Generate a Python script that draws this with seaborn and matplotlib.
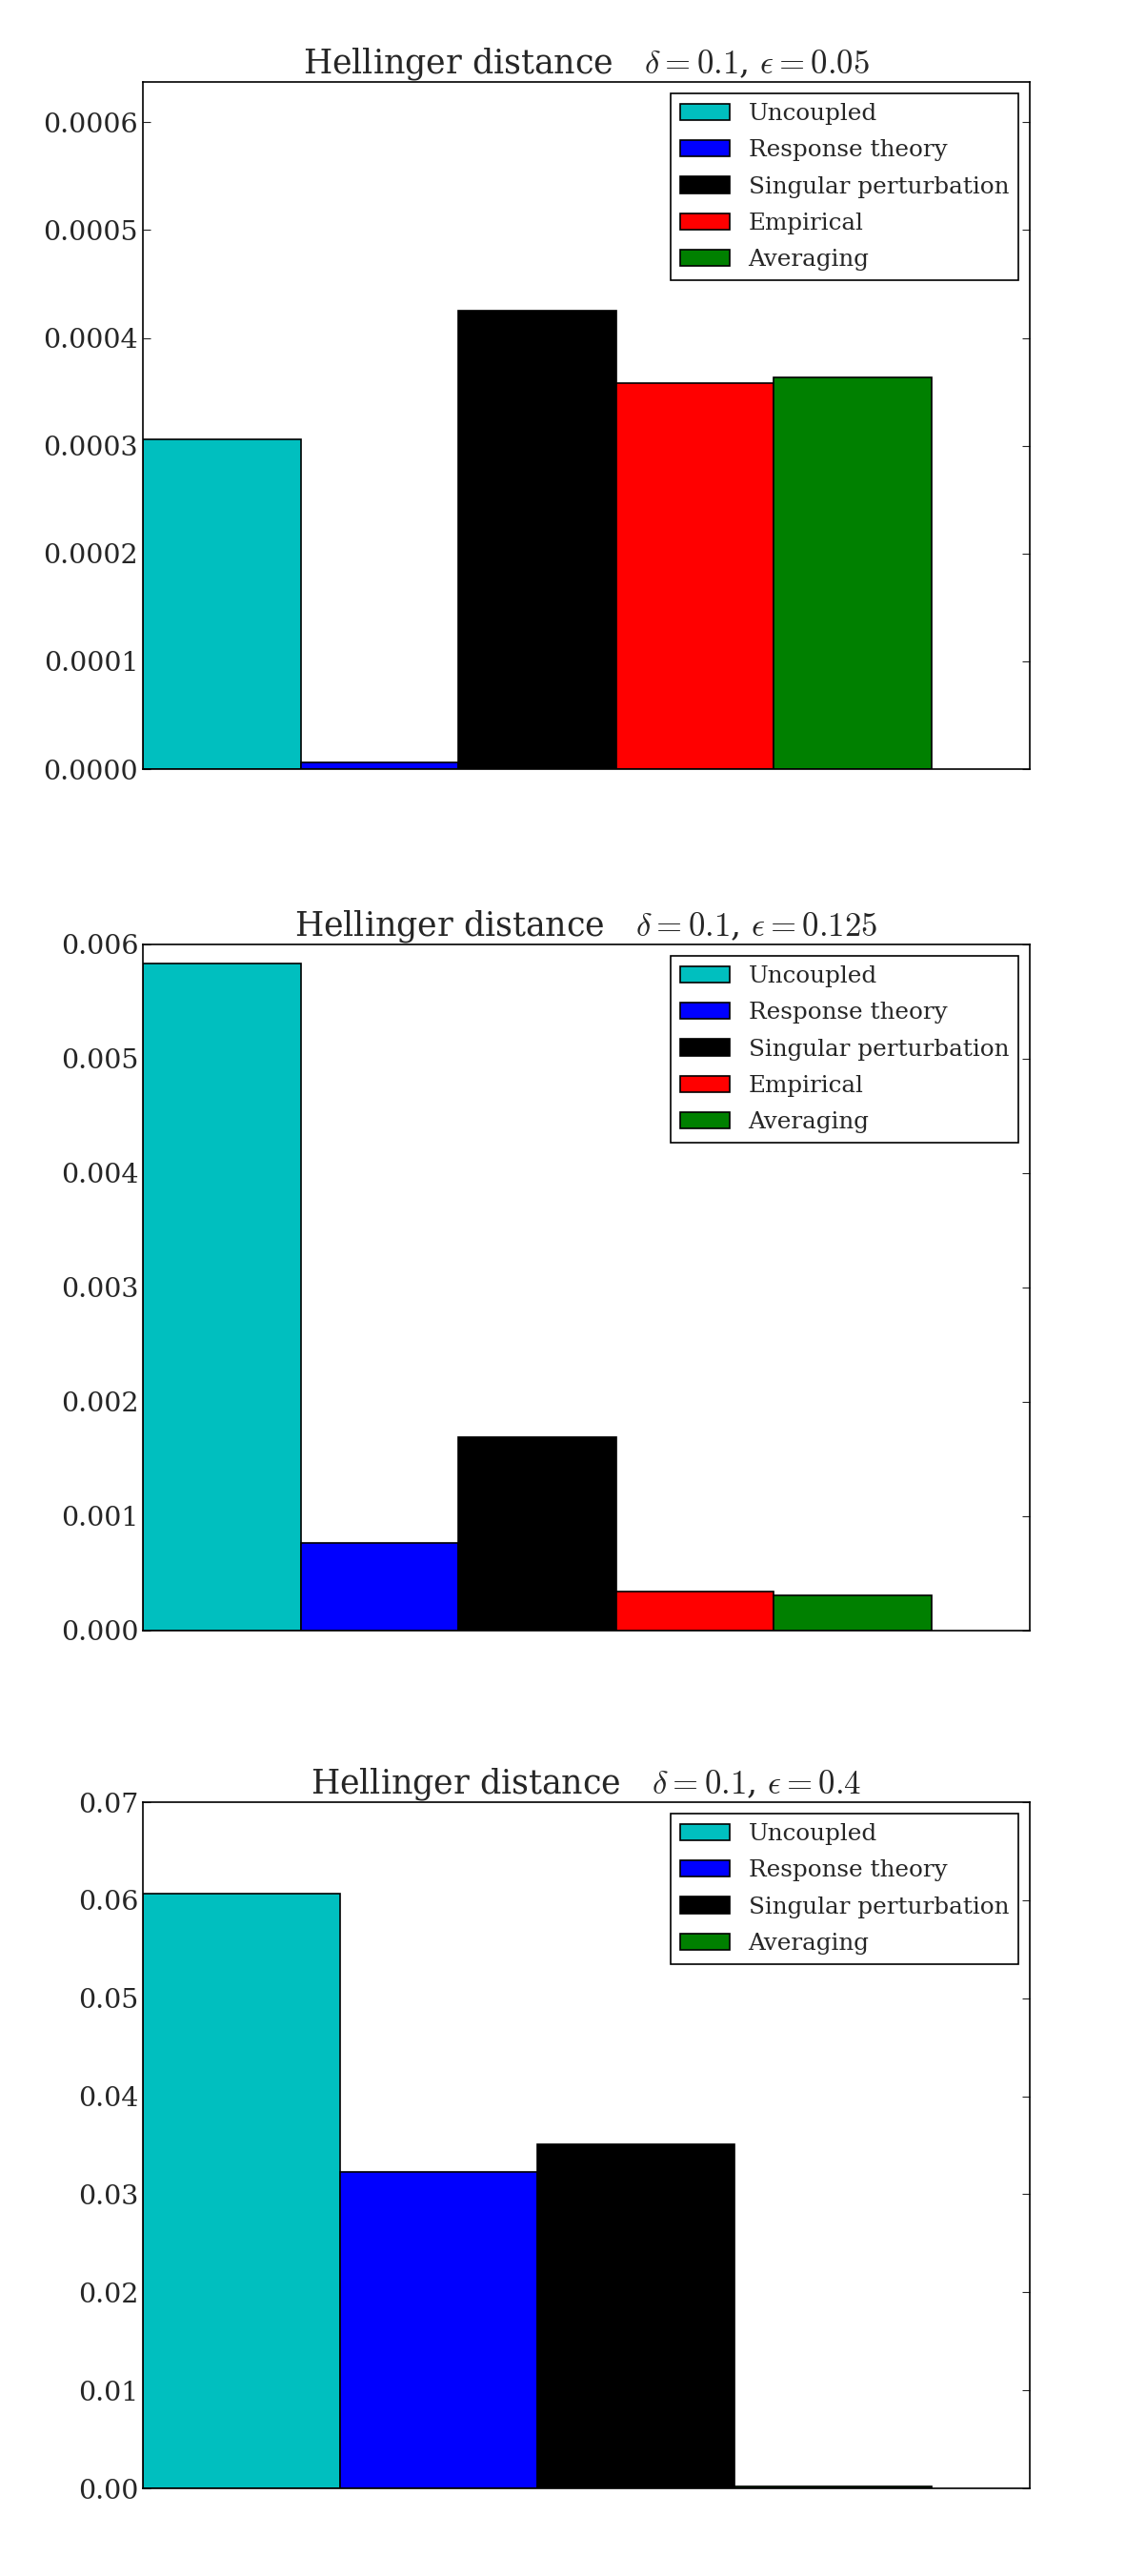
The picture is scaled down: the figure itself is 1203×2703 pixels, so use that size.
import matplotlib
matplotlib.use('Agg')
import matplotlib.pyplot as plt
import seaborn as sns

sns.set_style('ticks')
plt.rcParams.update({
    'font.family': ['DejaVu Serif'],
    'mathtext.fontset': 'cm',
    'xtick.direction': 'in',
    'ytick.direction': 'in',
    'ytick.right': True,
    'ytick.major.size': 6,
    'axes.linewidth': 1.2,
    'axes.edgecolor': 'black',
})

# data
methods_full = ['Uncoupled', 'Response theory', 'Singular perturbation', 'Empirical', 'Averaging']
methods_short = ['Uncoupled', 'Response theory', 'Singular perturbation', 'Averaging']

hd_eps005 = [0.000306, 0.000006, 0.000425, 0.000358, 0.0003635]
hd_eps0125 = [0.00583, 0.000765, 0.001695, 0.000344, 0.000308]
hd_eps04 = [0.0607, 0.03225, 0.0351, 0.00025]

titles = [r'Hellinger distance   $\delta=0.1$, $\epsilon=0.05$',
          r'Hellinger distance   $\delta=0.1$, $\epsilon=0.125$',
          r'Hellinger distance   $\delta=0.1$, $\epsilon=0.4$']

ticks_1 = [0.0, 0.0001, 0.0002, 0.0003, 0.0004, 0.0005, 0.0006]
ticks_2 = [0.0, 0.001, 0.002, 0.003, 0.004, 0.005, 0.006]
ticks_3 = [0.0, 0.01, 0.02, 0.03, 0.04, 0.05, 0.06, 0.07]

colors = {
    'Uncoupled': '#00bfbf',
    'Response theory': '#0000ff',
    'Singular perturbation': '#000000',
    'Empirical': '#ff0000',
    'Averaging': '#008000',
}

fig = plt.figure(figsize=(12.03, 27.03), dpi=100)

boxes = [
    [0.1247, 0.7014, 0.7739, 0.2668],
    [0.1247, 0.3670, 0.7739, 0.2664],
    [0.1247, 0.0340, 0.7739, 0.2664],
]

panels = [
    (methods_full, hd_eps005, ticks_1, '%.4f', 0.0006375),
    (methods_full, hd_eps0125, ticks_2, '%.3f', 0.006),
    (methods_short, hd_eps04, ticks_3, '%.2f', 0.07),
]

for box, title, (cats, vals, ticks, fmt, ytop) in zip(boxes, titles, panels):
    ax = fig.add_axes(box)
    sns.barplot(x=cats, y=vals, hue=cats, palette=colors, width=1,
                edgecolor='black', linewidth=1.2, saturation=1,
                legend=False, ax=ax)
    n = len(cats)
    ax.set_xlim(-0.5, -0.5 + 1.125 * n)
    ax.set_ylim(0, ytop)
    ax.set_xticks([])
    ax.set_yticks(ticks)
    ax.set_yticklabels([fmt % t for t in ticks], fontsize=20.5)
    ax.set_title(title, fontsize=25, pad=6)

    handles = list(ax.containers[0]) if len(ax.containers) == 1 else [c[0] for c in ax.containers]
    leg = ax.legend(handles, cats, loc='upper right', fontsize=17.7,
                    fancybox=False, framealpha=1, edgecolor='black',
                    handlelength=2.1, labelspacing=0.62)
    leg.get_frame().set_linewidth(1.2)

    for sp in ax.spines.values():
        sp.set_visible(True)

fig.savefig('out.png', dpi=100)
